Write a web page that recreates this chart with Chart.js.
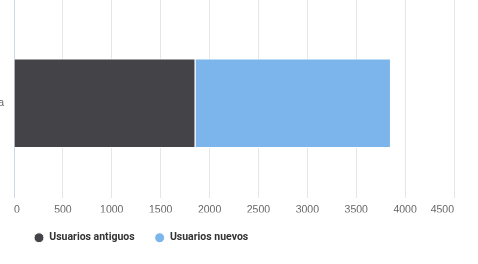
<!DOCTYPE html>
<html>
<head>
<meta charset="utf-8">
<script src="https://cdn.jsdelivr.net/npm/chart.js@4/dist/chart.umd.min.js"></script>
<style>
  html, body { margin: 0; padding: 0; background: #ffffff; }
  #wrap { position: relative; width: 478px; height: 264px; overflow: hidden; }
</style>
</head>
<body>
<div id="wrap"><canvas id="c"></canvas></div>
<script>
const categories = ['Esta semana'];
const usuariosAntiguos = [1856];
const usuariosNuevos = [1999];
const seriesNames = ['Usuarios antiguos', 'Usuarios nuevos'];
const xTickValues = [0, 500, 1000, 1500, 2000, 2500, 3000, 3500, 4000, 4500];

const gridColor = ctx => (ctx.tick && ctx.tick.value === 0) ? '#ccd6eb' : '#e6e6e6';
const setTicks = scale => { scale.ticks = xTickValues.map(v => ({ value: v })); };

new Chart(document.getElementById('c'), {
  type: 'bar',
  data: {
    labels: categories,
    datasets: [
      { label: seriesNames[0], data: usuariosAntiguos, backgroundColor: '#434348', borderColor: '#ffffff', borderWidth: 1 },
      { label: seriesNames[1], data: usuariosNuevos, backgroundColor: '#7cb5ec', borderColor: '#ffffff', borderWidth: 1 }
    ]
  },
  options: {
    indexAxis: 'y',
    responsive: true,
    maintainAspectRatio: false,
    animation: false,
    devicePixelRatio: 1,
    categoryPercentage: 0.476,
    barPercentage: 1,
    layout: { padding: { left: 0, right: 24, top: 0, bottom: 11 } },
    scales: {
      x: {
        type: 'linear', position: 'bottom', stacked: true, min: 0, max: 4500,
        afterBuildTicks: setTicks,
        afterFit: s => { s.height = 15; },
        grid: { color: gridColor, drawTicks: false, lineWidth: 1 },
        border: { display: false },
        ticks: { align: 'inner', padding: 6, color: '#666666', font: { family: 'Liberation Sans', size: 10.5 }, callback: v => String(v), maxRotation: 0 }
      },
      x2: {
        type: 'linear', position: 'top', min: 0, max: 4500,
        afterBuildTicks: setTicks,
        afterFit: s => { s.height = 9; },
        grid: { color: gridColor, drawOnChartArea: false, drawTicks: true, tickLength: 9 },
        border: { display: false },
        ticks: { display: true, color: 'rgba(0,0,0,0)', padding: 0, font: { size: 1 }, callback: () => '' }
      },
      y: {
        type: 'category', stacked: true,
        afterFit: s => { s.width = 14; s.paddingTop = 0; s.paddingBottom = 0; },
        grid: { display: false, drawTicks: false },
        border: { display: true, color: '#ccd6eb', width: 1 },
        ticks: { padding: 10, color: '#666666', font: { family: 'Liberation Sans', size: 10.5 } }
      }
    },
    plugins: {
      tooltip: { enabled: false },
      legend: {
        position: 'bottom', align: 'start', fullSize: false,
        labels: {
          usePointStyle: true, pointStyle: 'circle', boxWidth: 10, boxHeight: 7, padding: 20,
          color: '#333333', font: { family: 'Roboto', size: 10.5, weight: 'bold' }
        }
      }
    }
  }
});
</script>
</body>
</html>
